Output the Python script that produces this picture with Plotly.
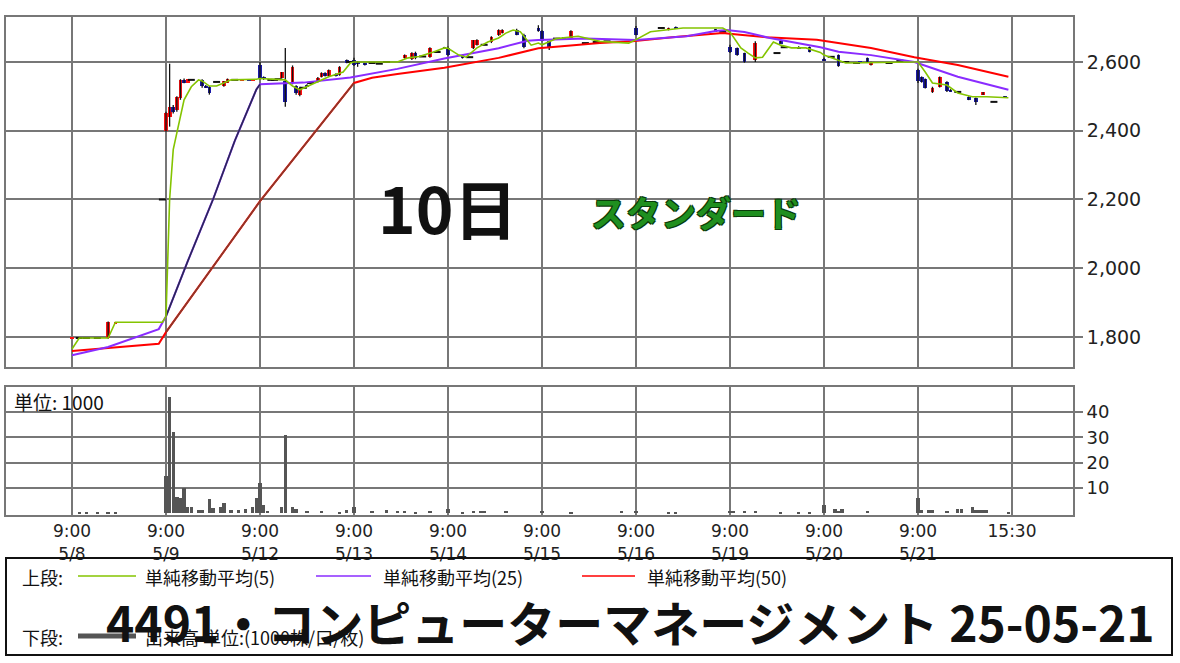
import plotly.graph_objects as go

W, H = 1180, 663

# ---------------- data ----------------
day_labels = ["5/8", "5/9", "5/12", "5/13", "5/14", "5/15", "5/16", "5/19", "5/20", "5/21"]
SLOT_MIN = 15          # 15-minute bars, slot index counted from 9:00
SESSION_MIN = 390      # 9:00 -> 15:30

# candles per day: (slot, open, high, low, close)
c0508 = [(0, 1795, 1800, 1795, 1800), (2, 1797, 1797, 1797, 1797), (4, 1797, 1797, 1797, 1797),
         (7, 1797, 1797, 1797, 1797), (10, 1797, 1845, 1795, 1843), (12, 1840, 1845, 1840, 1845),
         (25, 2200, 2200, 2200, 2200)]
c0509 = [(0, 2400, 2455, 2397, 2452), (1, 2440, 2595, 2412, 2470), (2, 2470, 2475, 2450, 2455),
         (3, 2461, 2500, 2455, 2499), (4, 2495, 2550, 2490, 2548), (5, 2548, 2552, 2538, 2540),
         (6, 2540, 2550, 2540, 2550), (7, 2548, 2548, 2548, 2548), (10, 2548, 2550, 2525, 2530),
         (11, 2530, 2533, 2525, 2527), (12, 2528, 2530, 2505, 2510), (14, 2542, 2542, 2542, 2542),
         (16, 2530, 2545, 2528, 2545), (17, 2540, 2552, 2540, 2550), (19, 2548, 2548, 2548, 2548),
         (21, 2545, 2550, 2545, 2550), (23, 2548, 2548, 2545, 2545), (24, 2546, 2550, 2546, 2550)]
c0512 = [(0, 2590, 2600, 2550, 2554), (1, 2556, 2558, 2548, 2550), (3, 2548, 2548, 2548, 2548),
         (4, 2548, 2548, 2548, 2548), (5, 2550, 2550, 2550, 2550), (6, 2554, 2571, 2552, 2571),
         (7, 2545, 2641, 2470, 2484), (9, 2539, 2590, 2535, 2586), (10, 2530, 2532, 2505, 2510),
         (11, 2505, 2528, 2500, 2525), (12, 2525, 2525, 2525, 2525), (13, 2533, 2535, 2530, 2530),
         (14, 2539, 2539, 2539, 2539), (16, 2542, 2556, 2540, 2554), (17, 2557, 2570, 2555, 2568),
         (18, 2568, 2570, 2558, 2560), (19, 2560, 2578, 2558, 2577), (21, 2565, 2567, 2558, 2560),
         (22, 2562, 2588, 2560, 2586), (24, 2605, 2607, 2596, 2598), (25, 2600, 2600, 2600, 2600)]
c0513 = [(0, 2606, 2612, 2588, 2591), (1, 2600, 2602, 2586, 2595), (3, 2595, 2596, 2590, 2592),
         (5, 2597, 2597, 2597, 2597), (7, 2595, 2595, 2595, 2595), (9, 2600, 2600, 2600, 2600),
         (14, 2612, 2622, 2610, 2620), (16, 2608, 2628, 2606, 2626), (17, 2626, 2630, 2608, 2612),
         (19, 2616, 2616, 2616, 2616), (21, 2614, 2643, 2612, 2641), (23, 2629, 2629, 2629, 2629),
         (25, 2643, 2644, 2638, 2639)]
c0514 = [(0, 2641, 2645, 2618, 2620), (4, 2620, 2622, 2610, 2612), (6, 2614, 2614, 2614, 2614),
         (7, 2641, 2664, 2638, 2664), (8, 2650, 2666, 2648, 2664), (10, 2650, 2650, 2650, 2650),
         (12, 2658, 2675, 2655, 2672), (14, 2678, 2695, 2676, 2693), (15, 2685, 2695, 2683, 2693),
         (19, 2693, 2697, 2678, 2680), (21, 2680, 2682, 2640, 2643), (25, 2700, 2707, 2688, 2690)]
c0515 = [(0, 2690, 2692, 2660, 2662), (2, 2660, 2662, 2635, 2641), (4, 2668, 2668, 2668, 2668),
         (6, 2672, 2673, 2664, 2665), (8, 2670, 2692, 2668, 2690), (12, 2655, 2655, 2655, 2655),
         (15, 2658, 2658, 2658, 2658), (18, 2660, 2660, 2660, 2660)]
c0516 = [(0, 2700, 2705, 2678, 2680), (7, 2699, 2699, 2699, 2699), (9, 2693, 2700, 2692, 2699),
         (11, 2702, 2703, 2696, 2697), (22, 2695, 2696, 2689, 2690), (24, 2688, 2688, 2688, 2688)]
c0519 = [(0, 2645, 2650, 2626, 2628), (2, 2640, 2642, 2618, 2620), (4, 2625, 2627, 2598, 2600),
         (7, 2605, 2660, 2600, 2655), (13, 2626, 2626, 2626, 2626), (14, 2660, 2662, 2654, 2655),
         (15, 2643, 2643, 2643, 2643), (19, 2645, 2646, 2638, 2640), (22, 2643, 2645, 2628, 2630)]
c0520 = [(0, 2610, 2612, 2603, 2604), (2, 2615, 2615, 2615, 2615), (4, 2620, 2622, 2586, 2588),
         (6, 2600, 2600, 2600, 2600), (9, 2597, 2597, 2597, 2597), (10, 2602, 2602, 2599, 2599),
         (12, 2612, 2613, 2598, 2600), (13, 2591, 2601, 2590, 2600), (18, 2597, 2597, 2597, 2597),
         (21, 2604, 2604, 2604, 2604)]
c0521 = [(0, 2577, 2580, 2539, 2545), (1, 2556, 2558, 2540, 2542), (2, 2550, 2552, 2523, 2525),
         (4, 2512, 2528, 2510, 2525), (6, 2528, 2558, 2526, 2557), (8, 2542, 2544, 2513, 2515),
         (9, 2520, 2521, 2514, 2515), (11, 2513, 2513, 2513, 2513), (14, 2499, 2500, 2489, 2490),
         (16, 2495, 2497, 2475, 2484), (18, 2505, 2513, 2504, 2512), (21, 2484, 2484, 2484, 2484),
         (24, 2500, 2501, 2495, 2496)]
candles_by_day = [c0508, c0509, c0512, c0513, c0514, c0515, c0516, c0519, c0520, c0521]

# volume (unit 1000 shares): (day index, slot, volume)
volume = [(0, 2, 0.4), (0, 4, 0.3), (0, 7, 0.3), (0, 10, 0.6), (0, 12, 0.3),
          (1, 0, 14.7), (1, 1, 46), (1, 2, 32), (1, 3, 6.5), (1, 4, 6), (1, 5, 10), (1, 6, 2.5),
          (1, 7, 2.7), (1, 9, 1.5), (1, 10, 1.2), (1, 12, 5.7), (1, 13, 2.3), (1, 15, 2.7),
          (1, 16, 4), (1, 18, 1.2), (1, 20, 1.3), (1, 22, 1.8), (1, 24, 2.7), (1, 25, 6),
          (2, 0, 12), (2, 1, 3.5), (2, 2, 1), (2, 6, 2.7), (2, 7, 31), (2, 9, 2.5), (2, 10, 1.7),
          (2, 13, 1), (2, 17, 1), (2, 22, 0.6), (2, 24, 1.5),
          (3, 0, 2.5), (3, 5, 1), (3, 9, 1.5), (3, 12, 1), (3, 14, 1), (3, 17, 0.5), (3, 21, 1),
          (4, 0, 1.8), (4, 4, 0.5), (4, 7, 1), (4, 9, 1), (4, 10, 1), (4, 16, 1),
          (5, 0, 1), (5, 8, 0.6), (5, 22, 1),
          (6, 0, 1), (6, 9, 0.5), (6, 11, 0.4),
          (7, 0, 1), (7, 1, 1), (7, 4, 1), (7, 7, 0.8), (7, 14, 0.5), (7, 19, 0.5), (7, 22, 0.6),
          (8, 0, 3.5), (8, 3, 1.8), (8, 4, 0.8), (8, 5, 1.8), (8, 12, 1),
          (9, 0, 6), (9, 1, 1.5), (9, 3, 1.5), (9, 4, 1.5), (9, 8, 1), (9, 11, 1.8), (9, 12, 1.8),
          (9, 15, 2.5), (9, 16, 1.3), (9, 17, 1.3), (9, 18, 1.3), (9, 19, 1.3), (9, 25, 0.7)]

# moving averages: (day index, slot, value)
ma5 = [(0, 0, 1765), (0, 2, 1797), (0, 10, 1797), (0, 12, 1843), (0, 25, 1843),
       (1, 0, 1860), (1, 1, 2200), (1, 2, 2345), (1, 3, 2394), (1, 5, 2490), (1, 7, 2528),
       (1, 9, 2548), (1, 10, 2545), (1, 12, 2530), (1, 14, 2530), (1, 16, 2540), (1, 18, 2548),
       (1, 25, 2550),
       (2, 0, 2552), (2, 7, 2548), (2, 9, 2530), (2, 11, 2519), (2, 15, 2539), (2, 19, 2557),
       (2, 23, 2571), (2, 25, 2597),
       (3, 0, 2600), (3, 12, 2600), (3, 15, 2612), (3, 18, 2616), (3, 22, 2629), (3, 25, 2641),
       (4, 0, 2640), (4, 3, 2620), (4, 5, 2614), (4, 8, 2641), (4, 11, 2658), (4, 14, 2670),
       (4, 16, 2684), (4, 18, 2693), (4, 20, 2688), (4, 22, 2664), (4, 23, 2649), (4, 25, 2655),
       (5, 0, 2650), (5, 4, 2668), (5, 10, 2675), (5, 16, 2660), (5, 24, 2655),
       (6, 0, 2665), (6, 4, 2688), (6, 13, 2699), (6, 24, 2699),
       (7, 0, 2687), (7, 2, 2658), (7, 3, 2641), (7, 5, 2626), (7, 7, 2612), (7, 9, 2614),
       (7, 12, 2658), (7, 14, 2649), (7, 17, 2641), (7, 21, 2641), (7, 25, 2628),
       (8, 0, 2620), (8, 2, 2612), (8, 6, 2597), (8, 25, 2600),
       (9, 0, 2600), (9, 2, 2571), (9, 4, 2539), (9, 8, 2533), (9, 11, 2510), (9, 15, 2499),
       (9, 19, 2499), (9, 25, 2496)]
ma25 = [(0, 0, 1747), (0, 10, 1771), (0, 24, 1823), (1, 0, 1860), (1, 6, 2020), (1, 13, 2200),
        (1, 19, 2370), (1, 25, 2520), (2, 0, 2535), (2, 12, 2540), (2, 25, 2555), (3, 0, 2557),
        (3, 12, 2580), (3, 25, 2610), (4, 0, 2612), (4, 14, 2640), (4, 22, 2662), (4, 25, 2664),
        (5, 12, 2668), (5, 25, 2664), (6, 0, 2664), (6, 14, 2675), (6, 22, 2690), (6, 25, 2693),
        (7, 4, 2687), (7, 11, 2670), (7, 19, 2655), (7, 25, 2643), (8, 4, 2630), (8, 13, 2620),
        (8, 25, 2600), (9, 11, 2557), (9, 25, 2519)]
ma50 = [(0, 0, 1759), (0, 24, 1780), (1, 0, 1814), (2, 0, 2195), (3, 0, 2539), (3, 5, 2554),
        (3, 12, 2565), (3, 25, 2583), (4, 14, 2612), (4, 25, 2640), (5, 16, 2655), (5, 25, 2660),
        (6, 10, 2672), (6, 24, 2684), (7, 2, 2680), (7, 10, 2672), (7, 24, 2665), (8, 4, 2655),
        (8, 13, 2641), (8, 25, 2614), (9, 11, 2591), (9, 25, 2557)]

price_ticks = [1800, 2000, 2200, 2400, 2600]
volume_ticks = [10, 20, 30, 40]
legend_labels = ["単純移動平均(5)", "単純移動平均(25)", "単純移動平均(50)"]
volume_label = "出来高 単位:(1000株/口/枚)"
title_text = "4491・コンピューターマネージメント 25-05-21"

# ---------------- styles ----------------
UP, DOWN = "#ff1010", "#1a1aa8"
C_MA5, C_MA25, C_MA50 = "#84c400", "#8a2cff", "#ff0000"
GRID = "#777777"
JP = "Noto Sans CJK JP"
LAT = "DejaVu Sans"


def xpos(d, k):
    return d + k * SLOT_MIN / SESSION_MIN


def X(px):
    return px / W


def Y(py):
    return 1 - py / H


fig = go.Figure()

wx, wy = [], []
ux, ub, uh = [], [], []
dx, db, dh = [], [], []
jx, jy = [], []
for d, day in enumerate(candles_by_day):
    for k, o, h, l, c in day:
        x = xpos(d, k)
        if h > max(o, c) or l < min(o, c):
            wx += [x, x, None]
            wy += [l, h, None]
        if c > o:
            ux.append(x); ub.append(o); uh.append(c - o)
        elif c < o:
            dx.append(x); db.append(c); dh.append(o - c)
        else:
            jx.append(x); jy.append(c)

BW = 0.04
fig.add_trace(go.Scatter(x=wx, y=wy, mode="lines", line=dict(color="#111", width=1.3),
                         hoverinfo="skip", showlegend=False))
fig.add_trace(go.Bar(x=ux, y=uh, base=ub, width=BW, marker=dict(color=UP, line=dict(width=0)),
                     showlegend=False))
fig.add_trace(go.Bar(x=dx, y=dh, base=db, width=BW, marker=dict(color=DOWN, line=dict(width=0)),
                     showlegend=False))
fig.add_trace(go.Scatter(x=jx, y=jy, mode="markers",
                         marker=dict(symbol="line-ew", size=5, line=dict(color="#111", width=2)),
                         showlegend=False))


def ma_trace(pts, color, width, lo=None, hi=None):
    xs, ys = [], []
    for d, k, v in pts:
        x = xpos(d, k)
        if lo is not None and not (lo <= x <= hi):
            continue
        xs.append(x); ys.append(v)
    return go.Scatter(x=xs, y=ys, mode="lines", line=dict(color=color, width=width, shape="linear"),
                      hoverinfo="skip", showlegend=False)


fig.add_trace(ma_trace(ma50, C_MA50, 2))
fig.add_trace(ma_trace(ma50, "#8a3a2a", 1.6, 1.0, 3.0))
fig.add_trace(ma_trace(ma25, C_MA25, 2))
fig.add_trace(ma_trace(ma25, "#2a2a55", 1.6, 1.0, 2.0))
fig.add_trace(ma_trace(ma5, C_MA5, 1.6))

fig.add_trace(go.Bar(x=[xpos(d, k) for d, k, v in volume], y=[v for d, k, v in volume],
                     width=0.036, marker=dict(color="#555", line=dict(width=0)),
                     xaxis="x2", yaxis="y2", showlegend=False))

xr = [(6 - 72) / 94, (1073 - 72) / 94]
grid_common = dict(showgrid=True, gridcolor=GRID, gridwidth=2, showline=True, linecolor=GRID,
                   linewidth=2, mirror=True, zeroline=False)
xticks = list(range(11))
xtext = ["9:00<br>" + d for d in day_labels] + ["15:30"]

fig.update_layout(
    width=W, height=H, margin=dict(l=0, r=0, t=0, b=0),
    paper_bgcolor="white", plot_bgcolor="white", barmode="overlay", bargap=0,
    showlegend=False,
    font=dict(family=LAT, color="#222"),
    xaxis=dict(domain=[X(6), X(1073)], range=xr, tickvals=xticks, showticklabels=False,
               ticks="", anchor="y", **grid_common),
    yaxis=dict(domain=[Y(367), Y(17)], range=[1712.7, 2730.9], side="right", tickvals=price_ticks,
               tickformat=",", ticks="outside", ticklen=8, tickcolor=GRID, tickwidth=2,
               tickfont=dict(size=19, family=LAT, color="#222"), anchor="x", **grid_common),
    xaxis2=dict(domain=[X(6), X(1073)], range=xr, tickvals=xticks, ticktext=xtext,
                ticks="", anchor="y2", matches="x",
                tickfont=dict(size=17, family=LAT, color="#222"), **grid_common),
    yaxis2=dict(domain=[Y(515), Y(387)], range=[-0.6, 49.8], side="right", tickvals=volume_ticks,
                ticks="outside", ticklen=8, tickcolor=GRID, tickwidth=2,
                tickfont=dict(size=18, family=LAT, color="#222"), anchor="x2", **grid_common),
)

shapes = [
    dict(type="rect", xref="paper", yref="paper", x0=X(6), x1=X(1172), y0=Y(655), y1=Y(558),
         line=dict(color="#111", width=2)),
    dict(type="line", xref="paper", yref="paper", x0=X(78), x1=X(136), y0=Y(576), y1=Y(576),
         line=dict(color=C_MA5, width=1.5)),
    dict(type="line", xref="paper", yref="paper", x0=X(316), x1=X(371), y0=Y(576), y1=Y(576),
         line=dict(color=C_MA25, width=1.5)),
    dict(type="line", xref="paper", yref="paper", x0=X(582), x1=X(635), y0=Y(576), y1=Y(576),
         line=dict(color=C_MA50, width=1.5)),
    dict(type="line", xref="paper", yref="paper", x0=X(78), x1=X(136), y0=Y(636), y1=Y(636),
         line=dict(color="#555", width=5)),
]
fig.update_layout(shapes=shapes)


def ann(text, px, py, size, xanchor="left", color="#111", family=JP, **kw):
    return dict(text=text, x=X(px), y=Y(py), xref="paper", yref="paper", showarrow=False,
                xanchor=xanchor, yanchor="middle", font=dict(size=size, color=color, family=family, **kw))


anns = [
    ann("単位: 1000", 12, 402, 19),
    ann("<b>10日</b>", 448, 206, 64, xanchor="center"),
    ann("<b>スタンダード</b>", 696, 211, 35, xanchor="center", color="#1f8f1f",
        shadow="1px 1px 0px #0b3b0b, -1px -1px 0px #0b3b0b, 1px -1px 0px #0b3b0b, -1px 1px 0px #0b3b0b"),
    ann("上段:", 20, 577, 18),
    ann(legend_labels[0], 143, 577, 18),
    ann(legend_labels[1], 381, 577, 18),
    ann(legend_labels[2], 645, 577, 18),
    ann("下段:", 20, 637, 18),
    ann(volume_label, 143, 637, 18),
    ann("<b>" + title_text + "</b>", 630, 621, 48, xanchor="center"),
]
fig.update_layout(annotations=anns)

fig.write_html("out.html", config={"displayModeBar": False},
               post_script="document.body.style.margin='0';document.body.style.overflow='hidden';")
